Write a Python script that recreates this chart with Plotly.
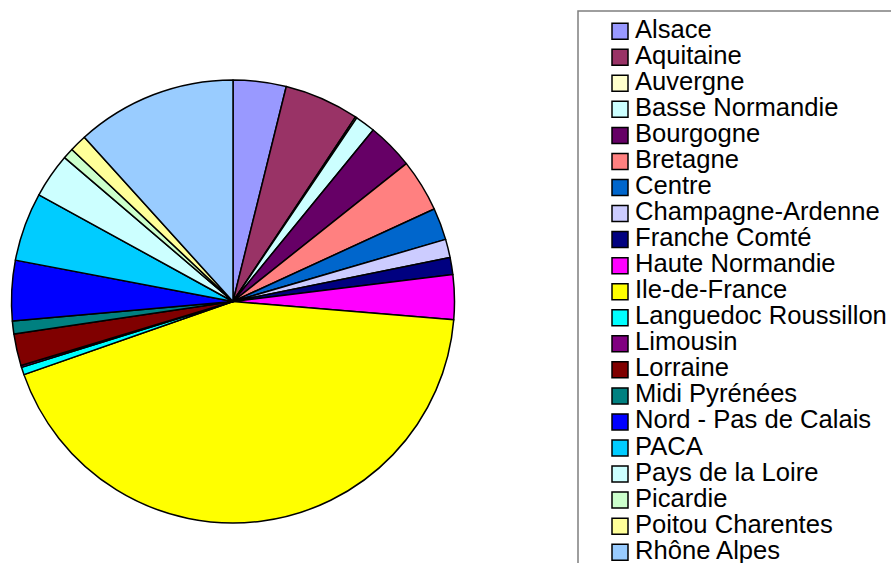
import plotly.graph_objects as go

regions = ["Alsace", "Aquitaine", "Auvergne", "Basse Normandie", "Bourgogne",
           "Bretagne", "Centre", "Champagne-Ardenne", "Franche Comté",
           "Haute Normandie", "Ile-de-France", "Languedoc Roussillon", "Limousin",
           "Lorraine", "Midi Pyrénées", "Nord - Pas de Calais", "PACA",
           "Pays de la Loire", "Picardie", "Poitou Charentes", "Rhône Alpes"]
values = [3.86, 5.45, 0.11, 1.47, 3.39, 3.83, 2.33, 1.33, 1.25, 3.25, 43.25,
          0.55, 0.14, 2.31, 0.94, 4.39, 5.00, 3.25, 0.78, 1.25, 11.69]
colors = ["#9999FF", "#993366", "#FFFFCC", "#CCFFFF", "#660066", "#FF8080",
          "#0066CC", "#CCCCFF", "#000080", "#FF00FF", "#FFFF00", "#00FFFF",
          "#800080", "#800000", "#008080", "#0000FF", "#00CCFF", "#CCFFFF",
          "#CCFFCC", "#FFFF99", "#99CCFF"]

W, H = 891, 563

fig = go.Figure(go.Pie(
    labels=regions, values=values, sort=False, direction="clockwise",
    rotation=0, textinfo="none", hoverinfo="label+percent",
    marker=dict(colors=colors, line=dict(color="black", width=1.5)),
    domain=dict(x=[11 / W, 455 / W], y=[1 - 523 / H, 1 - 80 / H]),
    showlegend=False,
))

# Manual legend (Excel-style tight spacing)
shapes = [dict(type="rect", xref="paper", yref="paper",
               x0=578 / W, x1=900 / W, y0=1 - 575 / H, y1=1 - 11 / H,
               line=dict(color="#7f7f7f", width=1.5), fillcolor="rgba(0,0,0,0)")]
annotations = []
step = 26.05
for i, (name, col) in enumerate(zip(regions, colors)):
    cy = 31.2 + i * step
    shapes.append(dict(type="rect", xref="paper", yref="paper",
                       x0=612 / W, x1=628 / W,
                       y0=1 - (cy + 8) / H, y1=1 - (cy - 8) / H,
                       fillcolor=col, line=dict(color="black", width=1.5)))
    annotations.append(dict(text=name, xref="paper", yref="paper",
                            x=633 / W, y=1 - (cy - 2.5) / H,
                            xanchor="left", yanchor="middle", showarrow=False,
                            font=dict(family="Liberation Sans, Arial", size=25.6,
                                      color="black")))

fig.update_layout(
    width=W, height=H, margin=dict(l=0, r=0, t=0, b=0),
    paper_bgcolor="white", plot_bgcolor="white",
    shapes=shapes, annotations=annotations,
)

fig.write_html("out.html", config={"displayModeBar": False},
               post_script="document.body.style.margin='0px';document.body.style.overflow='hidden';")
